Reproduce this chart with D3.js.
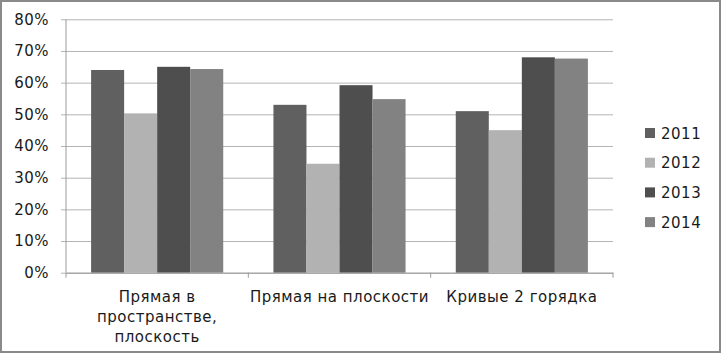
<!DOCTYPE html>
<head>
    <meta charset="utf-8">
    <script src="https://d3js.org/d3.v7.min.js"></script>
    <style>
      body { margin: 0; background: #fff; }
      text {
        font-family: "DejaVu Sans";
        fill: #1a1a1a;
      }
      .axislabel { font-size: 15px; letter-spacing: 0.5px; }
      .legendtext { font-size: 15px; letter-spacing: 0.5px; }
    </style>
</head>
<body>
    <script>
        var categories = [
          ["Прямая в", "пространстве,", "плоскость"],
          ["Прямая на плоскости"],
          ["Кривые 2 горядка"]
        ];
        var years = ["2011", "2012", "2013", "2014"];
        var v2011 = [64, 53, 51];
        var v2012 = [50.3, 34.4, 45];
        var v2013 = [65, 59.2, 68];
        var v2014 = [64.3, 54.8, 67.6];
        var colors = ["#606060", "#b2b2b2", "#4e4e4e", "#828282"];
        var yTicks = [0, 10, 20, 30, 40, 50, 60, 70, 80];

        var series = [v2011, v2012, v2013, v2014];
        var data = [];
        categories.forEach(function(c, i) {
          series.forEach(function(s, j) {
            data.push({cat: i, year: years[j], val: s[i], color: colors[j]});
          });
        });

        var svg = d3.select("body").append("svg")
          .attr("width", 722)
          .attr("height", 354);

        // outer frame
        svg.append("rect")
          .attr("x", 1).attr("y", 1)
          .attr("width", 719).attr("height", 351)
          .attr("fill", "#fff")
          .attr("stroke", "#8a8a8a")
          .attr("stroke-width", 2);

        var plotL = 66, plotR = 613, plotT = 19.3, plotB = 272.7;

        var x = d3.scaleBand().domain([0, 1, 2]).range([plotL, plotR]).padding(0);
        var x1 = d3.scaleBand().domain(years).range([0, x.bandwidth()])
          .paddingInner(0).paddingOuter(0.76);
        var y = d3.scaleLinear().domain([0, 80]).range([plotB, plotT]);

        // gridlines + y axis
        var yAxis = svg.append("g")
          .attr("transform", "translate(" + plotL + ",0)")
          .call(d3.axisLeft(y).tickValues(yTicks)
            .tickSize(-(plotR - plotL))
            .tickPadding(17)
            .tickFormat(function(d) { return d + "%"; }));
        yAxis.select(".domain").remove();
        yAxis.selectAll(".tick line")
          .attr("x1", -5)
          .attr("stroke", "#b4b4b4");
        yAxis.selectAll(".tick text")
          .attr("class", "axislabel")
          .attr("font-family", null)
          .attr("font-size", null);
        yAxis.attr("font-family", null).attr("font-size", null);

        svg.append("g").selectAll("rect").data(data).enter()
          .append("rect")
          .attr("x", function(d) { return x(d.cat) + x1(d.year); })
          .attr("y", function(d) { return y(d.val); })
          .attr("width", x1.bandwidth())
          .attr("height", function(d) { return plotB - y(d.val); })
          .attr("fill", function(d) { return d.color; });

        // axis lines
        svg.append("line")
          .attr("x1", plotL).attr("x2", plotL)
          .attr("y1", plotT).attr("y2", plotB)
          .attr("stroke", "#9a9a9a");
        var xAxis = svg.append("g")
          .attr("transform", "translate(0," + plotB + ")")
          .call(d3.axisBottom(x).tickValues([]).tickSizeOuter(0));
        xAxis.select(".domain").attr("stroke", "#9a9a9a");
        [0, 1, 2, 3].forEach(function(i) {
          var xp = i < 3 ? x(i) : x(2) + x.bandwidth();
          xAxis.append("line")
            .attr("x1", xp).attr("x2", xp)
            .attr("y1", 0).attr("y2", 5)
            .attr("stroke", "#9a9a9a");
        });

        // category labels
        categories.forEach(function(lines, i) {
          lines.forEach(function(t, k) {
            svg.append("text")
              .attr("class", "axislabel")
              .attr("x", x(i) + x.bandwidth() / 2)
              .attr("y", 302 + k * 20)
              .attr("text-anchor", "middle")
              .text(t);
          });
        });

        // legend
        var legend = svg.append("g");
        years.forEach(function(yr, j) {
          var cy = 133 + j * 29.7;
          legend.append("rect")
            .attr("x", 645).attr("y", cy - 5)
            .attr("width", 10).attr("height", 10)
            .attr("fill", colors[j]);
          legend.append("text")
            .attr("class", "legendtext")
            .attr("x", 661).attr("y", cy + 5.5)
            .text(yr);
        });
    </script>
</body>
